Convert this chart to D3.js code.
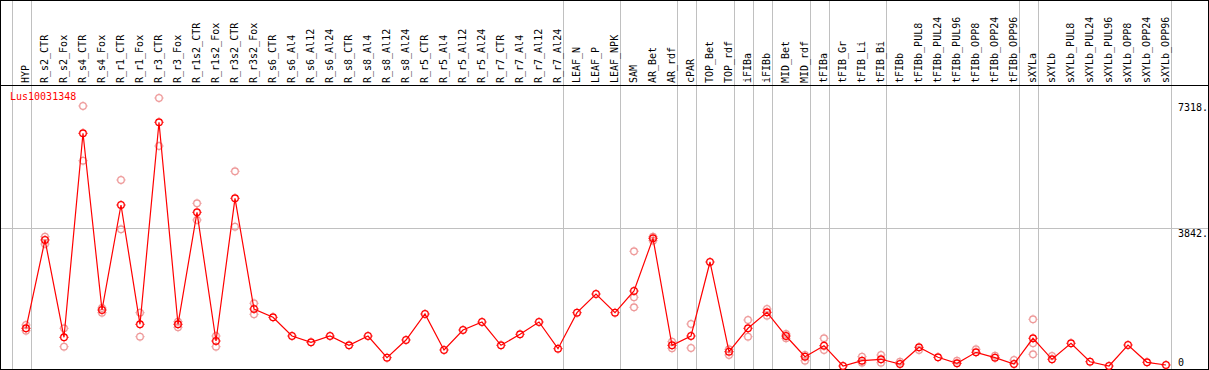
<!DOCTYPE html>
<html>
<head>
<meta charset="utf-8">
<script src="https://cdn.jsdelivr.net/npm/d3@7"></script>
<style>
  body { margin: 0; background: #fff; }
  text { font-family: "DejaVu Sans Mono", monospace; font-size: 10px; }
</style>
</head>
<body>
<svg id="chart"></svg>
<script>
// sample names, in column order
const samples = ["HYP", "R_s2_CTR", "R_s2_Fox", "R_s4_CTR", "R_s4_Fox", "R_r1_CTR", "R_r1_Fox",
  "R_r3_CTR", "R_r3_Fox", "R_r1s2_CTR", "R_r1s2_Fox", "R_r3s2_CTR", "R_r3s2_Fox", "R_s6_CTR",
  "R_s6_Al4", "R_s6_Al12", "R_s6_Al24", "R_s8_CTR", "R_s8_Al4", "R_s8_Al12", "R_s8_Al24",
  "R_r5_CTR", "R_r5_Al4", "R_r5_Al12", "R_r5_Al24", "R_r7_CTR", "R_r7_Al4", "R_r7_Al12",
  "R_r7_Al24", "LEAF_N", "LEAF_P", "LEAF_NPK", "SAM", "AR_Bet", "AR_rdf", "cPAR", "TOP_Bet",
  "TOP_rdf", "iFIBa", "iFIBb", "MID_Bet", "MID_rdf", "tFIBa", "tFIB_Gr", "tFIB_Li", "tFIB_Bi",
  "tFIBb", "tFIBb_PUL8", "tFIBb_PUL24", "tFIBb_PUL96", "tFIBb_OPP8", "tFIBb_OPP24",
  "tFIBb_OPP96", "sXYLa", "sXYLb", "sXYLb_PUL8", "sXYLb_PUL24", "sXYLb_PUL96", "sXYLb_OPP8",
  "sXYLb_OPP24", "sXYLb_OPP96"];

// mean expression per sample
const means = [1145, 3512, 903, 6372, 1635, 4450, 1252, 6667, 1252, 4254, 804, 4629, 1662, 1439,
  938, 769, 938, 689, 938, 357, 831, 1528, 563, 1099, 1313, 689, 984, 1313, 598, 1563, 2064,
  1563, 2144, 3557, 689, 938, 2922, 517, 1145, 1573, 938, 383, 678, 134, 276, 314, 188, 635,
  367, 206, 501, 357, 188, 877, 314, 743, 249, 134, 697, 233, 161];

// replicate values (lighter circles)
const replicates = [[1233, 1080], [3600, 3404], [1145, 651], [7104, 5637], [1689, 1563],
  [5120, 3798], [1563, 919], [7318, 6031], [1322, 1171], [4495, 4048], [938, 651], [5353, 3868],
  [1815, 1520], [], [], [], [], [], [], [], [], [], [], [], [], [], [], [], [], [], [], [],
  [3209, 1976, 1708], [3600, 3493], [785, 608], [1260, 617], [], [582, 429], [1367, 919],
  [1662, 1482], [992, 877], [429, 276], [877, 563], [], [383, 222], [429, 222], [249],
  [563], [], [276], [582], [410], [295], [1386, 743, 448], [402], [], [], [], [], [], []];

// last sample of each group (a grey line follows it)
const groupEnds = ["HYP", "R_r7_Al24", "LEAF_NPK", "AR_rdf", "cPAR", "TOP_rdf", "iFIBa", "iFIBb",
  "MID_rdf", "tFIBa", "tFIB_Bi", "tFIBb_OPP96", "sXYLa", "sXYLb_OPP96"];

const yTicks = [0, 3842, 7318];
const geneName = "Lus10031348";

const width = 1209, height = 370;
const red = "#ff0000", pale = "#ee9a9a", grid = "#c0c0c0";

const svg = d3.select("#chart").attr("width", width).attr("height", height);

const x = d3.scalePoint().domain(samples).range([26, 1166]);
const y = d3.scaleLinear().domain([0, 7318]).range([371, 98]);
const step = x.step();

// grey group separators
const sepX = [x(samples[0]) - step + 4.5].concat(groupEnds.map(s => x(s) + 4.5));
svg.selectAll(".sep").data(sepX).enter().append("line")
  .attr("x1", d => Math.round(d) + 0.5).attr("x2", d => Math.round(d) + 0.5)
  .attr("y1", 0).attr("y2", height)
  .attr("stroke", grid).attr("stroke-width", 1);

// horizontal grid at middle tick
svg.append("line")
  .attr("x1", 0).attr("x2", width)
  .attr("y1", Math.round(y(3842)) + 0.5).attr("y2", Math.round(y(3842)) + 0.5)
  .attr("stroke", grid);

// header separator and border
svg.append("line").attr("x1", 0).attr("x2", width).attr("y1", 85.5).attr("y2", 85.5)
  .attr("stroke", "#000");
svg.append("rect").attr("x", 0.5).attr("y", 0.5).attr("width", 1208).attr("height", 369)
  .attr("fill", "none").attr("stroke", "#000");

// rotated sample labels
svg.selectAll(".lab").data(samples).enter().append("text")
  .attr("transform", d => `translate(${x(d) + 3},83) rotate(-90)`)
  .attr("text-anchor", "start")
  .attr("fill", "#000")
  .text(d => d);

// y labels on the right
svg.selectAll(".ylab").data(yTicks).enter().append("text")
  .attr("x", 1178)
  .attr("y", d => Math.max(111, Math.min(366, y(d) + 9)))
  .attr("fill", "#000")
  .text(d => d === 0 ? "0" : d + ".");

svg.append("text").attr("x", 10).attr("y", 100).attr("fill", red).text(geneName);

const plot = svg.append("g");

function marker(g, cx, cy, color) {
  g.append("circle").attr("cx", cx).attr("cy", cy).attr("r", 3.3)
    .attr("fill", "none").attr("stroke", color).attr("stroke-width", 1.3);
  [[0, -1], [0, 1], [-1, 0], [1, 0]].forEach(([dx, dy]) => {
    g.append("line")
      .attr("x1", cx + dx * 3.8).attr("y1", cy + dy * 3.8)
      .attr("x2", cx + dx * 4.8).attr("y2", cy + dy * 4.8)
      .attr("stroke", color).attr("stroke-width", 0.8);
  });
}

// replicate circles
samples.forEach((s, i) => {
  replicates[i].forEach(v => marker(plot, x(s), y(v), pale));
});

// mean line
const line = d3.line().x((d, i) => x(samples[i])).y(d => y(d));
plot.append("path").datum(means).attr("d", line)
  .attr("fill", "none").attr("stroke", red).attr("stroke-width", 1.2);

samples.forEach((s, i) => marker(plot, x(s), y(means[i]), red));
</script>
</body>
</html>
